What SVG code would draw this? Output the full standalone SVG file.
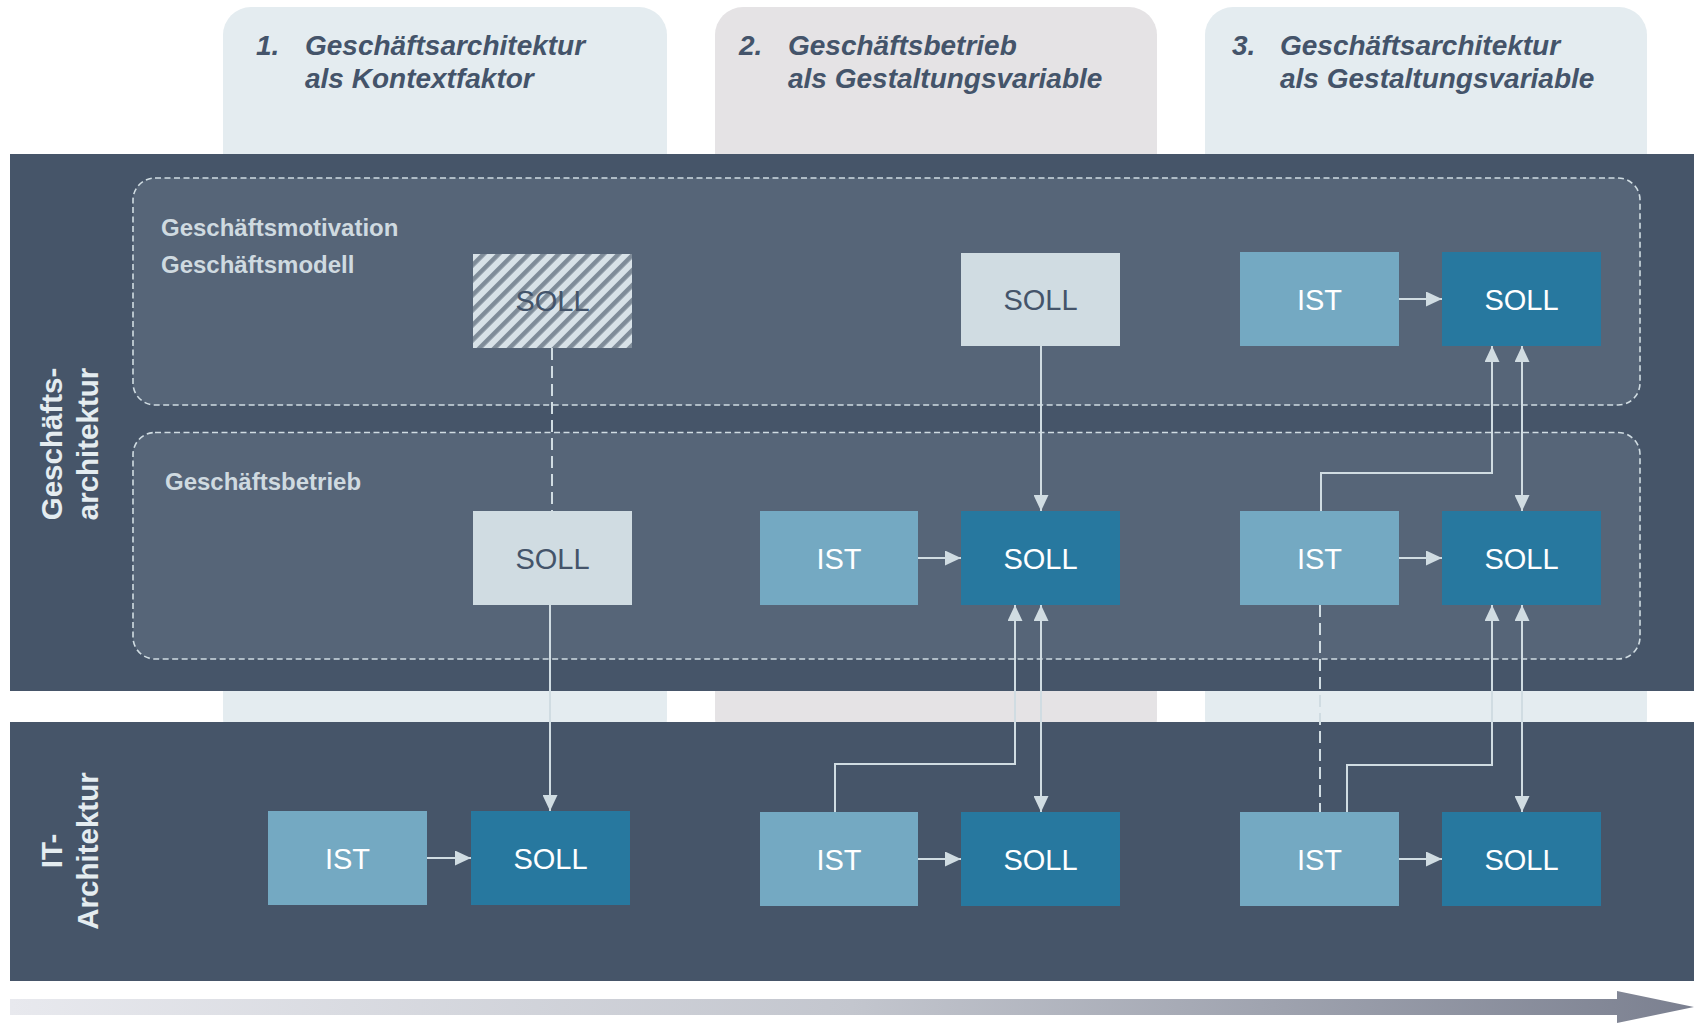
<svg xmlns="http://www.w3.org/2000/svg" width="1694" height="1023" viewBox="0 0 1694 1023">
<style>
.hdr{font-family:"Liberation Sans",Arial,sans-serif;font-weight:bold;font-style:italic;font-size:28px;fill:#44546a}
.band{fill:#465569}
.zone{fill:#566578;stroke:#d0dce2;stroke-width:1.6;stroke-dasharray:6 3.5}
.zlbl{font-family:"Liberation Sans",Arial,sans-serif;font-weight:bold;font-size:24px;fill:#cfdae0}
.vlbl{font-family:"Liberation Sans",Arial,sans-serif;font-weight:bold;font-size:29.5px;fill:#e4ecf0;text-anchor:middle}
.ist{fill:#74a9c2}
.soll{fill:#27789f}
.lsoll{fill:#d0dce2}
.bt{font-family:"Liberation Sans",Arial,sans-serif;font-size:29px;text-anchor:middle;fill:#ffffff}
.btd{font-family:"Liberation Sans",Arial,sans-serif;font-size:29px;text-anchor:middle;fill:#44546a}
.con{fill:none;stroke:#d0dce2;stroke-width:2}
.dash{fill:none;stroke:#d0dce2;stroke-width:2;stroke-dasharray:12 6}
</style>
<defs>
<marker id="ah" viewBox="0 0 16 15" refX="16" refY="7.5" markerWidth="16" markerHeight="15" markerUnits="userSpaceOnUse" orient="auto-start-reverse">
<path d="M0,0 L16,7.5 L0,15 Z" fill="#d0dce2"/>
</marker>
<pattern id="hatch" patternUnits="userSpaceOnUse" width="10.6" height="10.6" patternTransform="rotate(45)">
<rect width="10.6" height="10.6" fill="#d8e2e8"/>
<rect x="0" width="4.5" height="10.6" fill="#7f8c99"/>
</pattern>
<linearGradient id="tl" x1="0" y1="0" x2="1" y2="0">
<stop offset="0" stop-color="#e8e9ee"/>
<stop offset="0.5" stop-color="#c3c6ce"/>
<stop offset="1" stop-color="#7b8090"/>
</linearGradient>
</defs>

<g id="col1-header">
<rect x="223" y="7" width="444" height="740" rx="28" fill="#e4ecf0"/>
<text class="hdr" x="256" y="55">1.</text>
<text class="hdr" x="305" y="55">Geschäftsarchitektur</text>
<text class="hdr" x="305" y="88">als Kontextfaktor</text>
</g>
<g id="col2-header">
<rect x="715" y="7" width="442" height="740" rx="28" fill="#e5e3e5"/>
<text class="hdr" x="739" y="55">2.</text>
<text class="hdr" x="788" y="55">Geschäftsbetrieb</text>
<text class="hdr" x="788" y="88">als Gestaltungsvariable</text>
</g>
<g id="col3-header">
<rect x="1205" y="7" width="442" height="740" rx="28" fill="#e4ecf0"/>
<text class="hdr" x="1232" y="55">3.</text>
<text class="hdr" x="1280" y="55">Geschäftsarchitektur</text>
<text class="hdr" x="1280" y="88">als Gestaltungsvariable</text>
</g>

<g id="band-business">
<rect class="band" x="10" y="154" width="1684" height="537"/>
<text class="vlbl" transform="translate(62,444) rotate(-90)"><tspan x="0" y="0">Geschäfts-</tspan><tspan x="0" dy="36">architektur</tspan></text>
</g>
<g id="band-it">
<rect class="band" x="10" y="722" width="1684" height="259"/>
<text class="vlbl" transform="translate(62,851) rotate(-90)"><tspan x="0" y="0">IT-</tspan><tspan x="0" dy="36">Architektur</tspan></text>
</g>

<g id="zone-motivation">
<rect class="zone" x="133" y="178" width="1507" height="227" rx="22"/>
<text class="zlbl" x="161" y="236">Geschäftsmotivation</text>
<text class="zlbl" x="161" y="273">Geschäftsmodell</text>
</g>
<g id="zone-betrieb">
<rect class="zone" x="133" y="432.5" width="1507" height="226.5" rx="22"/>
<text class="zlbl" x="165" y="490">Geschäftsbetrieb</text>
</g>

<g id="connectors">
<path class="dash" d="M552,348 V511"/>
<path class="con" d="M550,605 V811" marker-end="url(#ah)"/>
<path class="con" d="M427,858 H471" marker-end="url(#ah)"/>
<path class="con" d="M1041,346 V511" marker-end="url(#ah)"/>
<path class="con" d="M918,558 H961" marker-end="url(#ah)"/>
<path class="con" d="M835,812 V764 H1015 V605" marker-end="url(#ah)"/>
<path class="con" d="M1041,605 V812" marker-start="url(#ah)" marker-end="url(#ah)"/>
<path class="con" d="M918,859 H961" marker-end="url(#ah)"/>
<path class="con" d="M1399,299 H1442" marker-end="url(#ah)"/>
<path class="con" d="M1321,511 V473 H1492 V346" marker-end="url(#ah)"/>
<path class="con" d="M1522,346 V511" marker-start="url(#ah)" marker-end="url(#ah)"/>
<path class="con" d="M1399,558 H1442" marker-end="url(#ah)"/>
<path class="dash" d="M1320,605 V812"/>
<path class="con" d="M1347,812 V765 H1492 V605" marker-end="url(#ah)"/>
<path class="con" d="M1522,605 V812" marker-start="url(#ah)" marker-end="url(#ah)"/>
<path class="con" d="M1399,859 H1442" marker-end="url(#ah)"/>
</g>

<g id="c1-top-soll">
<rect x="473" y="254" width="159" height="94" fill="url(#hatch)"/>
<text class="btd" x="552.5" y="311">SOLL</text>
</g>
<g id="c1-mid-soll">
<rect class="lsoll" x="473" y="511" width="159" height="94"/>
<text class="btd" x="552.5" y="568.5">SOLL</text>
</g>
<g id="c1-it-ist">
<rect class="ist" x="268" y="811" width="159" height="94"/>
<text class="bt" x="347.5" y="868.5">IST</text>
</g>
<g id="c1-it-soll">
<rect class="soll" x="471" y="811" width="159" height="94"/>
<text class="bt" x="550.5" y="868.5">SOLL</text>
</g>

<g id="c2-top-soll">
<rect class="lsoll" x="961" y="253" width="159" height="93"/>
<text class="btd" x="1040.5" y="310">SOLL</text>
</g>
<g id="c2-mid-ist">
<rect class="ist" x="760" y="511" width="158" height="94"/>
<text class="bt" x="839" y="568.5">IST</text>
</g>
<g id="c2-mid-soll">
<rect class="soll" x="961" y="511" width="159" height="94"/>
<text class="bt" x="1040.5" y="568.5">SOLL</text>
</g>
<g id="c2-it-ist">
<rect class="ist" x="760" y="812" width="158" height="94"/>
<text class="bt" x="839" y="869.5">IST</text>
</g>
<g id="c2-it-soll">
<rect class="soll" x="961" y="812" width="159" height="94"/>
<text class="bt" x="1040.5" y="869.5">SOLL</text>
</g>

<g id="c3-top-ist">
<rect class="ist" x="1240" y="252" width="159" height="94"/>
<text class="bt" x="1319.5" y="309.5">IST</text>
</g>
<g id="c3-top-soll">
<rect class="soll" x="1442" y="252" width="159" height="94"/>
<text class="bt" x="1521.5" y="309.5">SOLL</text>
</g>
<g id="c3-mid-ist">
<rect class="ist" x="1240" y="511" width="159" height="94"/>
<text class="bt" x="1319.5" y="568.5">IST</text>
</g>
<g id="c3-mid-soll">
<rect class="soll" x="1442" y="511" width="159" height="94"/>
<text class="bt" x="1521.5" y="568.5">SOLL</text>
</g>
<g id="c3-it-ist">
<rect class="ist" x="1240" y="812" width="159" height="94"/>
<text class="bt" x="1319.5" y="869.5">IST</text>
</g>
<g id="c3-it-soll">
<rect class="soll" x="1442" y="812" width="159" height="94"/>
<text class="bt" x="1521.5" y="869.5">SOLL</text>
</g>

<g id="timeline">
<path d="M10,999 H1617 V991 L1694,1007 L1617,1023 V1015 H10 Z" fill="url(#tl)"/>
</g>
</svg>
